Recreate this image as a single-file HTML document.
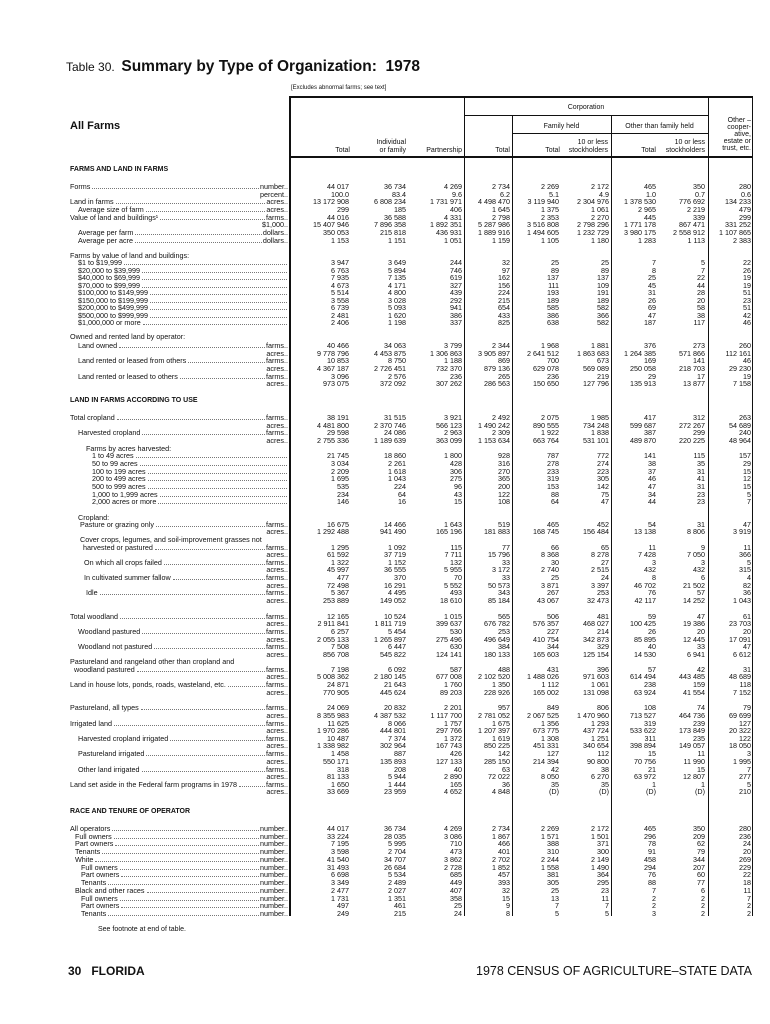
<!DOCTYPE html>
<html><head><meta charset="utf-8">
<style>
*{margin:0;padding:0;box-sizing:border-box}
body{width:770px;height:1024px;background:#fff;position:relative;overflow:hidden;font-family:"Liberation Sans Narrow","Liberation Sans",sans-serif;color:#111}
.a{position:absolute;white-space:nowrap}
.r{position:absolute;left:0;width:770px;height:8px;font-size:7.2px;line-height:8px}
.L{position:absolute;left:70px;width:218px;display:flex;white-space:nowrap}
.L em{flex:1;border-bottom:1px dotted #777;margin:0 1px 2px 2px}
.r u{position:absolute;text-decoration:none;text-align:right;white-space:nowrap}
.r u:nth-of-type(1){right:421px}
.r u:nth-of-type(2){right:364px}
.r u:nth-of-type(3){right:308px}
.r u:nth-of-type(4){right:260px}
.r u:nth-of-type(5){right:211px}
.r u:nth-of-type(6){right:161px}
.r u:nth-of-type(7){right:114px}
.r u:nth-of-type(8){right:65px}
.r u:nth-of-type(9){right:19px}
.h{font-weight:bold;font-family:"Liberation Sans",sans-serif;font-size:7px}
.vl{position:absolute;background:#111;width:1px}
.hl{position:absolute;background:#111;height:1px}
.hd{position:absolute;font-size:7px;line-height:8px;white-space:nowrap}
</style></head><body>

<div class="a" style="left:66px;top:58px;font-family:'Liberation Sans',sans-serif;font-size:12px;line-height:18px">Table 30.&nbsp; <b style="font-size:15.5px">Summary by Type of Organization:&nbsp; 1978</b></div>
<div class="a" style="left:291px;top:85px;font-size:6px">[Excludes abnormal farms; see text]</div>
<div class="a" style="left:70px;top:120px;font-family:'Liberation Sans',sans-serif;font-size:11px;font-weight:bold">All Farms</div>

<div class="hl" style="left:290px;top:96px;width:463px;height:2px"></div>
<div class="hl" style="left:290px;top:156px;width:463px;height:1.5px"></div>
<div class="hl" style="left:464px;top:115px;width:244px"></div>
<div class="hl" style="left:512px;top:133px;width:196px"></div>
<div class="vl" style="left:289px;top:96px;height:820px;width:2px"></div>
<div class="vl" style="left:752px;top:96px;height:820px"></div>
<div class="vl" style="left:464px;top:96px;height:820px"></div>
<div class="vl" style="left:708px;top:96px;height:820px"></div>
<div class="vl" style="left:512px;top:115px;height:801px"></div>
<div class="vl" style="left:611px;top:115px;height:801px"></div>

<div class="hd" style="left:464px;width:244px;text-align:center;top:104px">Corporation</div>
<div class="hd" style="left:512px;width:99px;text-align:center;top:123px">Family held</div>
<div class="hd" style="left:611px;width:97px;text-align:center;top:123px">Other than family held</div>
<div class="hd" style="right:19px;top:117px;text-align:right;line-height:7px">Other –<br>cooper-<br>ative,<br>estate or<br>trust, etc.</div>
<div class="hd" style="right:420px;top:147px">Total</div>
<div class="hd" style="right:364px;top:139px;text-align:right">Individual<br>or family</div>
<div class="hd" style="right:308px;top:147px">Partnership</div>
<div class="hd" style="right:260px;top:147px">Total</div>
<div class="hd" style="right:210px;top:147px">Total</div>
<div class="hd" style="right:162px;top:139px;text-align:right">10 or less<br>stockholders</div>
<div class="hd" style="right:114px;top:147px">Total</div>
<div class="hd" style="right:65px;top:139px;text-align:right">10 or less<br>stockholders</div>

<div class="a h" style="left:70px;top:166px">FARMS AND LAND IN FARMS</div>

<div class="r" style="top:183px"><div class="L">Forms<em></em>number..</div><u>44 017</u><u>36 734</u><u>4 269</u><u>2 734</u><u>2 269</u><u>2 172</u><u>465</u><u>350</u><u>280</u></div>
<div class="r" style="top:191px"><div class="L"><em style="border:0"></em>percent..</div><u>100.0</u><u>83.4</u><u>9.6</u><u>6.2</u><u>5.1</u><u>4.9</u><u>1.0</u><u>0.7</u><u>0.6</u></div>
<div class="r" style="top:198px"><div class="L">Land in farms<em></em>acres..</div><u>13 172 908</u><u>6 808 234</u><u>1 731 971</u><u>4 498 470</u><u>3 119 940</u><u>2 304 976</u><u>1 378 530</u><u>776 692</u><u>134 233</u></div>
<div class="r" style="top:206px"><div class="L" style="padding-left:8px">Average size of farm<em></em>acres..</div><u>299</u><u>185</u><u>406</u><u>1 645</u><u>1 375</u><u>1 061</u><u>2 965</u><u>2 219</u><u>479</u></div>
<div class="r" style="top:214px"><div class="L">Value of land and buildings¹<em></em>farms..</div><u>44 016</u><u>36 588</u><u>4 331</u><u>2 798</u><u>2 353</u><u>2 270</u><u>445</u><u>339</u><u>299</u></div>
<div class="r" style="top:221px"><div class="L"><em style="border:0"></em>$1,000..</div><u>15 407 946</u><u>7 896 358</u><u>1 892 351</u><u>5 287 986</u><u>3 516 808</u><u>2 798 296</u><u>1 771 178</u><u>867 471</u><u>331 252</u></div>
<div class="r" style="top:229px"><div class="L" style="padding-left:8px">Average per farm<em></em>dollars..</div><u>350 053</u><u>215 818</u><u>436 931</u><u>1 889 916</u><u>1 494 605</u><u>1 232 729</u><u>3 980 175</u><u>2 558 912</u><u>1 107 865</u></div>
<div class="r" style="top:237px"><div class="L" style="padding-left:8px">Average per acre<em></em>dollars..</div><u>1 153</u><u>1 151</u><u>1 051</u><u>1 159</u><u>1 105</u><u>1 180</u><u>1 283</u><u>1 113</u><u>2 383</u></div>

<div class="r" style="top:252px"><div class="L">Farms by value of land and buildings:</div></div>
<div class="r" style="top:259px"><div class="L" style="padding-left:8px">$1 to $19,999<em></em></div><u>3 947</u><u>3 649</u><u>244</u><u>32</u><u>25</u><u>25</u><u>7</u><u>5</u><u>22</u></div>
<div class="r" style="top:267px"><div class="L" style="padding-left:8px">$20,000 to $39,999<em></em></div><u>6 763</u><u>5 894</u><u>746</u><u>97</u><u>89</u><u>89</u><u>8</u><u>7</u><u>26</u></div>
<div class="r" style="top:274px"><div class="L" style="padding-left:8px">$40,000 to $69,999<em></em></div><u>7 935</u><u>7 135</u><u>619</u><u>162</u><u>137</u><u>137</u><u>25</u><u>22</u><u>19</u></div>
<div class="r" style="top:282px"><div class="L" style="padding-left:8px">$70,000 to $99,999<em></em></div><u>4 673</u><u>4 171</u><u>327</u><u>156</u><u>111</u><u>109</u><u>45</u><u>44</u><u>19</u></div>
<div class="r" style="top:289px"><div class="L" style="padding-left:8px">$100,000 to $149,999<em></em></div><u>5 514</u><u>4 800</u><u>439</u><u>224</u><u>193</u><u>191</u><u>31</u><u>28</u><u>51</u></div>
<div class="r" style="top:297px"><div class="L" style="padding-left:8px">$150,000 to $199,999<em></em></div><u>3 558</u><u>3 028</u><u>292</u><u>215</u><u>189</u><u>189</u><u>26</u><u>20</u><u>23</u></div>
<div class="r" style="top:304px"><div class="L" style="padding-left:8px">$200,000 to $499,999<em></em></div><u>6 739</u><u>5 093</u><u>941</u><u>654</u><u>585</u><u>582</u><u>69</u><u>58</u><u>51</u></div>
<div class="r" style="top:312px"><div class="L" style="padding-left:8px">$500,000 to $999,999<em></em></div><u>2 481</u><u>1 620</u><u>386</u><u>433</u><u>386</u><u>366</u><u>47</u><u>38</u><u>42</u></div>
<div class="r" style="top:319px"><div class="L" style="padding-left:8px">$1,000,000 or more<em></em></div><u>2 406</u><u>1 198</u><u>337</u><u>825</u><u>638</u><u>582</u><u>187</u><u>117</u><u>46</u></div>

<div class="r" style="top:333px"><div class="L">Owned and rented land by operator:</div></div>
<div class="r" style="top:342px"><div class="L" style="padding-left:8px">Land owned<em></em>farms..</div><u>40 466</u><u>34 063</u><u>3 799</u><u>2 344</u><u>1 968</u><u>1 881</u><u>376</u><u>273</u><u>260</u></div>
<div class="r" style="top:350px"><div class="L"><em style="border:0"></em>acres..</div><u>9 778 796</u><u>4 453 875</u><u>1 306 863</u><u>3 905 897</u><u>2 641 512</u><u>1 863 683</u><u>1 264 385</u><u>571 866</u><u>112 161</u></div>
<div class="r" style="top:357px"><div class="L" style="padding-left:8px">Land rented or leased from others<em></em>farms..</div><u>10 853</u><u>8 750</u><u>1 188</u><u>869</u><u>700</u><u>673</u><u>169</u><u>141</u><u>46</u></div>
<div class="r" style="top:365px"><div class="L"><em style="border:0"></em>acres..</div><u>4 367 187</u><u>2 726 451</u><u>732 370</u><u>879 136</u><u>629 078</u><u>569 089</u><u>250 058</u><u>218 703</u><u>29 230</u></div>
<div class="r" style="top:373px"><div class="L" style="padding-left:8px">Land rented or leased to others<em></em>farms..</div><u>3 096</u><u>2 576</u><u>236</u><u>265</u><u>236</u><u>219</u><u>29</u><u>17</u><u>19</u></div>
<div class="r" style="top:380px"><div class="L"><em style="border:0"></em>acres..</div><u>973 075</u><u>372 092</u><u>307 262</u><u>286 563</u><u>150 650</u><u>127 796</u><u>135 913</u><u>13 877</u><u>7 158</u></div>

<div class="a h" style="left:70px;top:397px">LAND IN FARMS ACCORDING TO USE</div>

<div class="r" style="top:414px"><div class="L">Total cropland<em></em>farms..</div><u>38 191</u><u>31 515</u><u>3 921</u><u>2 492</u><u>2 075</u><u>1 985</u><u>417</u><u>312</u><u>263</u></div>
<div class="r" style="top:422px"><div class="L"><em style="border:0"></em>acres..</div><u>4 481 800</u><u>2 370 746</u><u>566 123</u><u>1 490 242</u><u>890 555</u><u>734 248</u><u>599 687</u><u>272 267</u><u>54 689</u></div>
<div class="r" style="top:429px"><div class="L" style="padding-left:8px">Harvested cropland<em></em>farms..</div><u>29 598</u><u>24 086</u><u>2 963</u><u>2 309</u><u>1 922</u><u>1 838</u><u>387</u><u>299</u><u>240</u></div>
<div class="r" style="top:437px"><div class="L"><em style="border:0"></em>acres..</div><u>2 755 336</u><u>1 189 639</u><u>363 099</u><u>1 153 634</u><u>663 764</u><u>531 101</u><u>489 870</u><u>220 225</u><u>48 964</u></div>
<div class="r" style="top:445px"><div class="L" style="padding-left:16px">Farms by acres harvested:</div></div>
<div class="r" style="top:452px"><div class="L" style="padding-left:22px">1 to 49 acres<em></em></div><u>21 745</u><u>18 860</u><u>1 800</u><u>928</u><u>787</u><u>772</u><u>141</u><u>115</u><u>157</u></div>
<div class="r" style="top:460px"><div class="L" style="padding-left:22px">50 to 99 acres<em></em></div><u>3 034</u><u>2 261</u><u>428</u><u>316</u><u>278</u><u>274</u><u>38</u><u>35</u><u>29</u></div>
<div class="r" style="top:468px"><div class="L" style="padding-left:22px">100 to 199 acres<em></em></div><u>2 209</u><u>1 618</u><u>306</u><u>270</u><u>233</u><u>223</u><u>37</u><u>31</u><u>15</u></div>
<div class="r" style="top:475px"><div class="L" style="padding-left:22px">200 to 499 acres<em></em></div><u>1 695</u><u>1 043</u><u>275</u><u>365</u><u>319</u><u>305</u><u>46</u><u>41</u><u>12</u></div>
<div class="r" style="top:483px"><div class="L" style="padding-left:22px">500 to 999 acres<em></em></div><u>535</u><u>224</u><u>96</u><u>200</u><u>153</u><u>142</u><u>47</u><u>31</u><u>15</u></div>
<div class="r" style="top:491px"><div class="L" style="padding-left:22px">1,000 to 1,999 acres<em></em></div><u>234</u><u>64</u><u>43</u><u>122</u><u>88</u><u>75</u><u>34</u><u>23</u><u>5</u></div>
<div class="r" style="top:498px"><div class="L" style="padding-left:22px">2,000 acres or more<em></em></div><u>146</u><u>16</u><u>15</u><u>108</u><u>64</u><u>47</u><u>44</u><u>23</u><u>7</u></div>

<div class="r" style="top:514px"><div class="L" style="padding-left:8px">Cropland:</div></div>
<div class="r" style="top:521px"><div class="L" style="padding-left:10px">Pasture or grazing only<em></em>farms..</div><u>16 675</u><u>14 466</u><u>1 643</u><u>519</u><u>465</u><u>452</u><u>54</u><u>31</u><u>47</u></div>
<div class="r" style="top:528px"><div class="L"><em style="border:0"></em>acres..</div><u>1 292 488</u><u>941 490</u><u>165 196</u><u>181 883</u><u>168 745</u><u>156 484</u><u>13 138</u><u>8 806</u><u>3 919</u></div>
<div class="r" style="top:536px"><div class="L" style="padding-left:10px">Cover crops, legumes, and soil-improvement grasses not</div></div>
<div class="r" style="top:544px"><div class="L" style="padding-left:13px">harvested or pastured<em></em>farms..</div><u>1 295</u><u>1 092</u><u>115</u><u>77</u><u>66</u><u>65</u><u>11</u><u>9</u><u>11</u></div>
<div class="r" style="top:551px"><div class="L"><em style="border:0"></em>acres..</div><u>61 592</u><u>37 719</u><u>7 711</u><u>15 796</u><u>8 368</u><u>8 278</u><u>7 428</u><u>7 050</u><u>366</u></div>
<div class="r" style="top:559px"><div class="L" style="padding-left:14px">On which all crops failed<em></em>farms..</div><u>1 322</u><u>1 152</u><u>132</u><u>33</u><u>30</u><u>27</u><u>3</u><u>3</u><u>5</u></div>
<div class="r" style="top:566px"><div class="L"><em style="border:0"></em>acres..</div><u>45 997</u><u>36 555</u><u>5 955</u><u>3 172</u><u>2 740</u><u>2 515</u><u>432</u><u>432</u><u>315</u></div>
<div class="r" style="top:574px"><div class="L" style="padding-left:14px">In cultivated summer fallow<em></em>farms..</div><u>477</u><u>370</u><u>70</u><u>33</u><u>25</u><u>24</u><u>8</u><u>6</u><u>4</u></div>
<div class="r" style="top:582px"><div class="L"><em style="border:0"></em>acres..</div><u>72 498</u><u>16 291</u><u>5 552</u><u>50 573</u><u>3 871</u><u>3 397</u><u>46 702</u><u>21 502</u><u>82</u></div>
<div class="r" style="top:589px"><div class="L" style="padding-left:16px">Idle<em></em>farms..</div><u>5 367</u><u>4 495</u><u>493</u><u>343</u><u>267</u><u>253</u><u>76</u><u>57</u><u>36</u></div>
<div class="r" style="top:597px"><div class="L"><em style="border:0"></em>acres..</div><u>253 889</u><u>149 052</u><u>18 610</u><u>85 184</u><u>43 067</u><u>32 473</u><u>42 117</u><u>14 252</u><u>1 043</u></div>

<div class="r" style="top:613px"><div class="L">Total woodland<em></em>farms..</div><u>12 165</u><u>10 524</u><u>1 015</u><u>565</u><u>506</u><u>481</u><u>59</u><u>47</u><u>61</u></div>
<div class="r" style="top:620px"><div class="L"><em style="border:0"></em>acres..</div><u>2 911 841</u><u>1 811 719</u><u>399 637</u><u>676 782</u><u>576 357</u><u>468 027</u><u>100 425</u><u>19 386</u><u>23 703</u></div>
<div class="r" style="top:628px"><div class="L" style="padding-left:8px">Woodland pastured<em></em>farms..</div><u>6 257</u><u>5 454</u><u>530</u><u>253</u><u>227</u><u>214</u><u>26</u><u>20</u><u>20</u></div>
<div class="r" style="top:636px"><div class="L"><em style="border:0"></em>acres..</div><u>2 055 133</u><u>1 265 897</u><u>275 496</u><u>496 649</u><u>410 754</u><u>342 873</u><u>85 895</u><u>12 445</u><u>17 091</u></div>
<div class="r" style="top:643px"><div class="L" style="padding-left:8px">Woodland not pastured<em></em>farms..</div><u>7 508</u><u>6 447</u><u>630</u><u>384</u><u>344</u><u>329</u><u>40</u><u>33</u><u>47</u></div>
<div class="r" style="top:651px"><div class="L"><em style="border:0"></em>acres..</div><u>856 708</u><u>545 822</u><u>124 141</u><u>180 133</u><u>165 603</u><u>125 154</u><u>14 530</u><u>6 941</u><u>6 612</u></div>
<div class="r" style="top:658px"><div class="L">Pastureland and rangeland other than cropland and</div></div>
<div class="r" style="top:666px"><div class="L" style="padding-left:4px">woodland pastured<em></em>farms..</div><u>7 198</u><u>6 092</u><u>587</u><u>488</u><u>431</u><u>396</u><u>57</u><u>42</u><u>31</u></div>
<div class="r" style="top:673px"><div class="L"><em style="border:0"></em>acres..</div><u>5 008 362</u><u>2 180 145</u><u>677 008</u><u>2 102 520</u><u>1 488 026</u><u>971 603</u><u>614 494</u><u>443 485</u><u>48 689</u></div>
<div class="r" style="top:681px"><div class="L">Land in house lots, ponds, roads, wasteland, etc.<em></em>farms..</div><u>24 871</u><u>21 643</u><u>1 760</u><u>1 350</u><u>1 112</u><u>1 061</u><u>238</u><u>159</u><u>118</u></div>
<div class="r" style="top:689px"><div class="L"><em style="border:0"></em>acres..</div><u>770 905</u><u>445 624</u><u>89 203</u><u>228 926</u><u>165 002</u><u>131 098</u><u>63 924</u><u>41 554</u><u>7 152</u></div>

<div class="r" style="top:704px"><div class="L">Pastureland, all types<em></em>farms..</div><u>24 069</u><u>20 832</u><u>2 201</u><u>957</u><u>849</u><u>806</u><u>108</u><u>74</u><u>79</u></div>
<div class="r" style="top:712px"><div class="L"><em style="border:0"></em>acres..</div><u>8 355 983</u><u>4 387 532</u><u>1 117 700</u><u>2 781 052</u><u>2 067 525</u><u>1 470 960</u><u>713 527</u><u>464 736</u><u>69 699</u></div>
<div class="r" style="top:720px"><div class="L">Irrigated land<em></em>farms..</div><u>11 625</u><u>8 066</u><u>1 757</u><u>1 675</u><u>1 356</u><u>1 293</u><u>319</u><u>239</u><u>127</u></div>
<div class="r" style="top:727px"><div class="L"><em style="border:0"></em>acres..</div><u>1 970 286</u><u>444 801</u><u>297 766</u><u>1 207 397</u><u>673 775</u><u>437 724</u><u>533 622</u><u>173 849</u><u>20 322</u></div>
<div class="r" style="top:735px"><div class="L" style="padding-left:8px">Harvested cropland irrigated<em></em>farms..</div><u>10 487</u><u>7 374</u><u>1 372</u><u>1 619</u><u>1 308</u><u>1 251</u><u>311</u><u>235</u><u>122</u></div>
<div class="r" style="top:742px"><div class="L"><em style="border:0"></em>acres..</div><u>1 338 982</u><u>302 964</u><u>167 743</u><u>850 225</u><u>451 331</u><u>340 654</u><u>398 894</u><u>149 057</u><u>18 050</u></div>
<div class="r" style="top:750px"><div class="L" style="padding-left:8px">Pastureland irrigated<em></em>farms..</div><u>1 458</u><u>887</u><u>426</u><u>142</u><u>127</u><u>112</u><u>15</u><u>11</u><u>3</u></div>
<div class="r" style="top:758px"><div class="L"><em style="border:0"></em>acres..</div><u>550 171</u><u>135 893</u><u>127 133</u><u>285 150</u><u>214 394</u><u>90 800</u><u>70 756</u><u>11 990</u><u>1 995</u></div>
<div class="r" style="top:766px"><div class="L" style="padding-left:8px">Other land irrigated<em></em>farms..</div><u>318</u><u>208</u><u>40</u><u>63</u><u>42</u><u>38</u><u>21</u><u>15</u><u>7</u></div>
<div class="r" style="top:773px"><div class="L"><em style="border:0"></em>acres..</div><u>81 133</u><u>5 944</u><u>2 890</u><u>72 022</u><u>8 050</u><u>6 270</u><u>63 972</u><u>12 807</u><u>277</u></div>
<div class="r" style="top:781px"><div class="L">Land set aside in the Federal farm programs in 1978<em></em>farms..</div><u>1 650</u><u>1 444</u><u>165</u><u>36</u><u>35</u><u>35</u><u>1</u><u>1</u><u>5</u></div>
<div class="r" style="top:788px"><div class="L"><em style="border:0"></em>acres..</div><u>33 669</u><u>23 959</u><u>4 652</u><u>4 848</u><u>(D)</u><u>(D)</u><u>(D)</u><u>(D)</u><u>210</u></div>

<div class="a h" style="left:70px;top:808px">RACE AND TENURE OF OPERATOR</div>

<div class="r" style="top:825px"><div class="L">All operators<em></em>number..</div><u>44 017</u><u>36 734</u><u>4 269</u><u>2 734</u><u>2 269</u><u>2 172</u><u>465</u><u>350</u><u>280</u></div>
<div class="r" style="top:833px"><div class="L" style="padding-left:5px">Full owners<em></em>number..</div><u>33 224</u><u>28 035</u><u>3 086</u><u>1 867</u><u>1 571</u><u>1 501</u><u>296</u><u>209</u><u>236</u></div>
<div class="r" style="top:840px"><div class="L" style="padding-left:5px">Part owners<em></em>number..</div><u>7 195</u><u>5 995</u><u>710</u><u>466</u><u>388</u><u>371</u><u>78</u><u>62</u><u>24</u></div>
<div class="r" style="top:848px"><div class="L" style="padding-left:5px">Tenants<em></em>number..</div><u>3 598</u><u>2 704</u><u>473</u><u>401</u><u>310</u><u>300</u><u>91</u><u>79</u><u>20</u></div>
<div class="r" style="top:856px"><div class="L" style="padding-left:5px">White<em></em>number..</div><u>41 540</u><u>34 707</u><u>3 862</u><u>2 702</u><u>2 244</u><u>2 149</u><u>458</u><u>344</u><u>269</u></div>
<div class="r" style="top:864px"><div class="L" style="padding-left:11px">Full owners<em></em>number..</div><u>31 493</u><u>26 684</u><u>2 728</u><u>1 852</u><u>1 558</u><u>1 490</u><u>294</u><u>207</u><u>229</u></div>
<div class="r" style="top:871px"><div class="L" style="padding-left:11px">Part owners<em></em>number..</div><u>6 698</u><u>5 534</u><u>685</u><u>457</u><u>381</u><u>364</u><u>76</u><u>60</u><u>22</u></div>
<div class="r" style="top:879px"><div class="L" style="padding-left:11px">Tenants<em></em>number..</div><u>3 349</u><u>2 489</u><u>449</u><u>393</u><u>305</u><u>295</u><u>88</u><u>77</u><u>18</u></div>
<div class="r" style="top:887px"><div class="L" style="padding-left:5px">Black and other races<em></em>number..</div><u>2 477</u><u>2 027</u><u>407</u><u>32</u><u>25</u><u>23</u><u>7</u><u>6</u><u>11</u></div>
<div class="r" style="top:895px"><div class="L" style="padding-left:11px">Full owners<em></em>number..</div><u>1 731</u><u>1 351</u><u>358</u><u>15</u><u>13</u><u>11</u><u>2</u><u>2</u><u>7</u></div>
<div class="r" style="top:902px"><div class="L" style="padding-left:11px">Part owners<em></em>number..</div><u>497</u><u>461</u><u>25</u><u>9</u><u>7</u><u>7</u><u>2</u><u>2</u><u>2</u></div>
<div class="r" style="top:910px"><div class="L" style="padding-left:11px">Tenants<em></em>number..</div><u>249</u><u>215</u><u>24</u><u>8</u><u>5</u><u>5</u><u>3</u><u>2</u><u>2</u></div>

<div class="a" style="left:98px;top:926px;font-size:7px">See footnote at end of table.</div>
<div class="a" style="left:68px;top:964px;font-family:'Liberation Sans',sans-serif;font-size:12px;font-weight:bold">30&nbsp;&nbsp; FLORIDA</div>
<div class="a" style="right:18px;top:964px;font-size:12.5px">1978 CENSUS OF AGRICULTURE–STATE DATA</div>
</body></html>
